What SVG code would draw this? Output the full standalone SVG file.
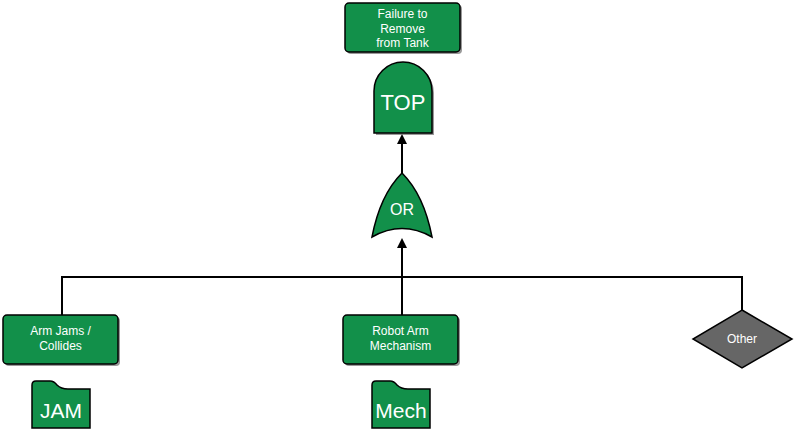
<svg xmlns="http://www.w3.org/2000/svg" width="800" height="432" viewBox="0 0 800 432">
<defs>
<style>
.n{fill:#12904a;stroke:#000;stroke-width:1.5}
.sh{fill:#555;opacity:0.6}
.t{font-family:"Liberation Sans",Arial,sans-serif;fill:#fff;text-anchor:middle}
.s{font-size:12px}
.b{font-size:21px}
.c{stroke:#000;stroke-width:2;fill:none}
</style>
<marker id="a" markerWidth="10" markerHeight="10" refX="8" refY="5" orient="auto" markerUnits="userSpaceOnUse"><path d="M0,0 L10,5 L0,10 Z" fill="#000"/></marker>
</defs>
<g id="connectors">
<line class="c" x1="402" y1="173" x2="402" y2="136" marker-end="url(#a)"/>
<line class="c" x1="402" y1="315" x2="402" y2="240" marker-end="url(#a)"/>
<polyline class="c" points="62,315 62,277 742,277 742,310"/>
</g>
<g id="top-event">
<rect class="sh" x="347" y="5" width="115" height="49" rx="4"/>
<rect class="n" x="345" y="3" width="115" height="49" rx="4"/>
<text class="t s" x="402.5" y="18">Failure to</text>
<text class="t s" x="402.5" y="32.5">Remove</text>
<text class="t s" x="402.5" y="47">from Tank</text>
</g>
<g id="top">
<path class="sh" d="M376,135 V93 A29,29 0 0 1 434,93 V135 Z"/>
<path class="n" d="M374,133 V91 A29,29 0 0 1 432,91 V133 Z"/>
<text class="t" style="font-size:22px" x="403" y="110">TOP</text>
</g>
<g id="or">
<path class="n" d="M402,173 Q380,195 372,237 Q402,220 432,237 Q424,195 402,173 Z"/>
<text class="t" style="font-size:16px" x="402" y="215">OR</text>
</g>
<g id="arm-jams">
<rect class="sh" x="5" y="317" width="115" height="49" rx="4"/>
<rect class="n" x="3" y="315" width="115" height="49" rx="4"/>
<text class="t s" x="60.5" y="335">Arm Jams /</text>
<text class="t s" x="60.5" y="350">Collides</text>
</g>
<g id="jam">
<path class="n" d="M32,428 V385 Q32,381 36,381 H50 Q54,381 57,385 Q61,389 68,389 H90 V428 Z"/>
<text class="t b" x="61" y="418">JAM</text>
</g>
<g id="robot-arm">
<rect class="sh" x="345" y="317" width="115" height="49" rx="4"/>
<rect class="n" x="343" y="315" width="115" height="49" rx="4"/>
<text class="t s" x="400.5" y="335">Robot Arm</text>
<text class="t s" x="400.5" y="350">Mechanism</text>
</g>
<g id="mech">
<path class="n" d="M372,428 V385 Q372,381 376,381 H390 Q394,381 397,385 Q401,389 408,389 H430 V428 Z"/>
<text class="t b" x="401" y="418">Mech</text>
</g>
<g id="other">
<path d="M742,310 L792,339 L742,368 L693,339 Z" fill="#666" stroke="#000" stroke-width="1.5"/>
<text class="t s" x="742" y="343">Other</text>
</g>
</svg>
